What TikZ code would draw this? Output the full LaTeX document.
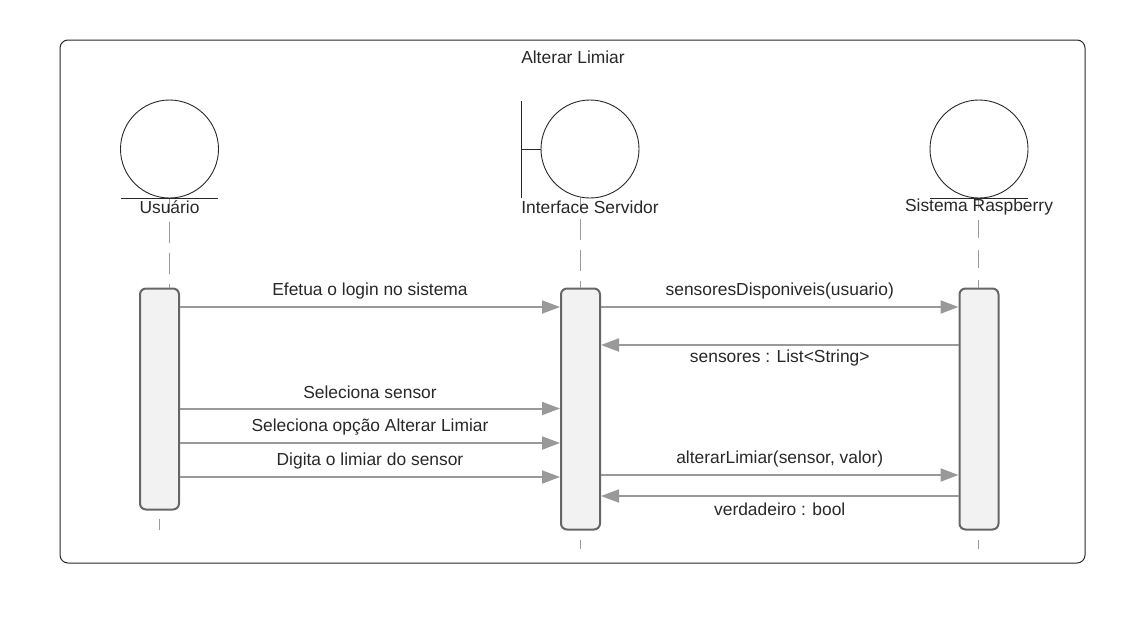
\documentclass[tikz,border=0pt]{standalone}
\usepackage{fontspec}
\setmainfont{Liberation Sans}
\usepackage{xcolor}
\usetikzlibrary{positioning, arrows.meta}
\definecolor{SeqGray}{RGB}{153,153,153}
\definecolor{SeqEdge}{RGB}{102,102,102}
\definecolor{SeqFill}{RGB}{242,242,242}
\definecolor{SeqText}{RGB}{40,40,40}
\begin{document}
\begin{tikzpicture}[
    x=1pt, y=-1pt,
    txt/.style={font=\fontsize{17.4}{20}\selectfont, text=SeqText, inner sep=0pt},
    obj/.style={circle, draw=SeqText, fill=white, line width=0.9pt, minimum size=98pt, inner sep=0pt},
    bar/.style={rectangle, rounded corners=6pt, draw=SeqEdge, fill=SeqFill, line width=2pt,
                minimum width=39pt, inner sep=0pt},
    msg/.style={-{Triangle[length=18pt, width=13pt]}, draw=SeqGray, line width=2pt},
    life/.style={draw=SeqGray, line width=1.5pt}
  ]
  \useasboundingbox (0,0) rectangle (1132,619);

  % Frame
  \node[rectangle, rounded corners=8pt, draw=SeqText, line width=1pt, minimum width=1025pt,
        minimum height=523pt, inner sep=0pt] (frame) at (572.5, 301.5) {};
  \node[txt] (title) at (573, 57) {Alterar Limiar};

  % Activation bars
  \node[bar, minimum height=221pt] (barU) at (159.5, 399) {};
  \node[bar, minimum height=241pt] (barI) at (580.5, 409) {};
  \node[bar, minimum height=241pt] (barR) at (979, 409) {};

  % Objects
  \coordinate (topU) at (169.5, 198);
  \coordinate (topI) at (580.5, 198);
  \coordinate (topR) at (978.5, 198);
  \coordinate (endU) at (159.5, 530);
  \coordinate (endI) at (580.5, 549);
  \coordinate (endR) at (978.5, 549);

  \draw[life, dash pattern=on 21pt off 10pt, dash phase=7pt]  (topU) -- (topU |- barU.north);
  \draw[life, dash pattern=on 21pt off 10pt, dash phase=10pt] (topI) -- (barI.north);
  \draw[life, line width=1pt, dash pattern=on 18pt off 12pt, dash phase=8pt] (topR) -- (topR |- barR.north);
  \draw[life, dash pattern=on 12pt off 8.5pt, dash phase=12pt] (barU.south) -- (endU);
  \draw[life, dash pattern=on 10pt off 9.5pt, dash phase=10pt] (barI.south) -- (endI);
  \draw[life, line width=1pt, dash pattern=on 10pt off 9.5pt, dash phase=10pt] (topR |- barR.south) -- (endR);

  \node[obj] (usuario) at (169.5, 149) {};
  \node[obj] (servidor) at (590, 149) {};
  \node[obj] (raspberry) at (979, 149) {};

  \draw[draw=SeqText, line width=0.9pt] (121, 198) -- (218, 198);
  \draw[draw=SeqText, line width=0.9pt] (930, 198) -- (1028, 198);
  \draw[draw=SeqText, line width=0.9pt] (521.5, 101) -- (521.5, 198);
  \draw[draw=SeqText, line width=0.9pt] (521.5, 149) -- (servidor.west);

  \node[txt] (lblU) at (169.5, 207) {Usuário};
  \node[txt] (lblI) at (590, 207) {Interface Servidor};
  \node[txt] (lblR) at (979, 207) {Sistema Raspberry};

  % Messages
  \foreach \y/\lab in {307/Efetua o login no sistema, 408.5/Seleciona sensor,
                       443/Seleciona opção Alterar Limiar, 477/Digita o limiar do sensor} {
    \draw[msg] (barU.east |- 0,\y) -- (barI.west |- 0,\y)
      node[txt, midway, yshift=16.4pt] {\lab};
  }
  \foreach \y/\lab in {307/sensoresDisponiveis(usuario), 475/{alterarLimiar(sensor, valor)}} {
    \draw[msg] (barI.east |- 0,\y) -- (barR.west |- 0,\y)
      node[txt, midway, yshift=16.4pt] {\lab};
  }
  \foreach \y/\lab in {345/sensores : List<String>, 496/verdadeiro : bool} {
    \draw[msg] (barR.west |- 0,\y) -- (barI.east |- 0,\y)
      node[txt, midway, yshift=-13.4pt] {\lab};
  }
\end{tikzpicture}
\end{document}
